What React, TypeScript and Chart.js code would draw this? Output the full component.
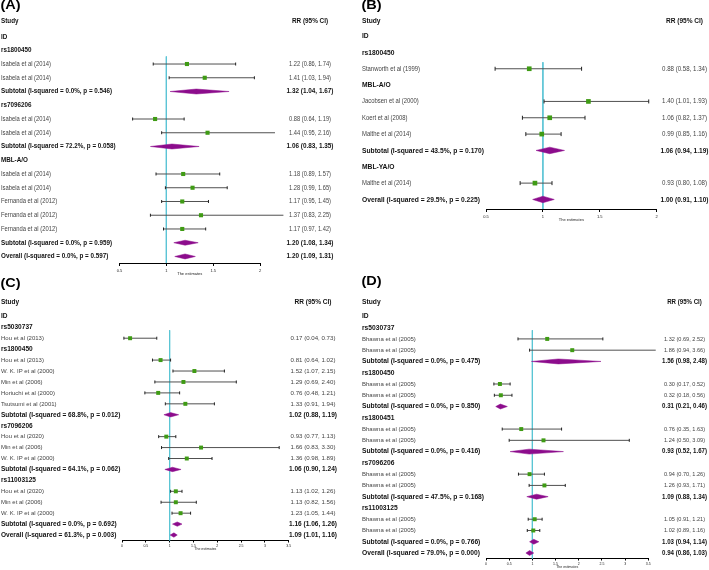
import React, { useEffect, useRef } from "react";
import { Chart, registerables } from "chart.js";

Chart.register(...registerables);
Chart.defaults.font.family = '"Liberation Sans", Arial, sans-serif';

// ---------------- Panel A ----------------
const A_LABELS = [
  "ID", "rs1800450", "Isabela et al (2014)", "Isabela et al (2014)", "Subtotal (I-squared = 0.0%, p = 0.546)",
  "rs7096206", "Isabela et al (2014)", "Isabela et al (2014)", "Subtotal (I-squared = 72.2%, p = 0.058)",
  "MBL-A/O", "Isabela et al (2014)", "Isabela et al (2014)", "Fernanda et al (2012)", "Fernanda et al (2012)",
  "Fernanda et al (2012)", "Subtotal (I-squared = 0.0%, p = 0.959)", "Overall (I-squared = 0.0%, p = 0.597)",
];
const A_KINDS = ["h", "h", "s", "s", "d", "h", "s", "s", "d", "h", "s", "s", "s", "s", "s", "d", "d"];
const A_EST = [null, null, 1.22, 1.41, 1.32, null, 0.88, 1.44, 1.06, null, 1.18, 1.28, 1.17, 1.37, 1.17, 1.2, 1.2];
const A_LOW = [null, null, 0.86, 1.03, 1.04, null, 0.64, 0.95, 0.83, null, 0.89, 0.99, 0.95, 0.83, 0.97, 1.08, 1.09];
const A_HIGH = [null, null, 1.74, 1.94, 1.67, null, 1.19, 2.16, 1.35, null, 1.57, 1.65, 1.45, 2.25, 1.42, 1.34, 1.31];
const A_TICKS = [0.5, 1, 1.5, 2];

// ---------------- Panel B ----------------
const B_LABELS = [
  "ID", "rs1800450", "Stanworth et al (1999)", "MBL-A/O", "Jacobsen et al (2000)", "Koert et al (2008)",
  "Malthe et al (2014)", "Subtotal (I-squared = 43.5%, p = 0.170)", "MBL-YA/O", "Malthe et al (2014)",
  "Overall (I-squared = 29.5%, p = 0.225)",
];
const B_KINDS = ["h", "h", "s", "h", "s", "s", "s", "d", "h", "s", "d"];
const B_EST = [null, null, 0.88, null, 1.4, 1.06, 0.99, 1.06, null, 0.93, 1.0];
const B_LOW = [null, null, 0.58, null, 1.01, 0.82, 0.85, 0.94, null, 0.8, 0.91];
const B_HIGH = [null, null, 1.34, null, 1.93, 1.37, 1.16, 1.19, null, 1.08, 1.1];
const B_TICKS = [0.5, 1, 1.5, 2];

// ---------------- Panel C ----------------
const C_LABELS = [
  "ID", "rs5030737", "Hou et al (2013)", "rs1800450", "Hou et al (2013)", "W. K. IP et al (2000)",
  "Min et al (2006)", "Horiuchi et al (2000)", "Tsutsumi et al (2001)", "Subtotal (I-squared = 68.8%, p = 0.012)",
  "rs7096206", "Hou et al (2020)", "Min et al (2006)", "W. K. IP et al (2000)", "Subtotal (I-squared = 64.1%, p = 0.062)",
  "rs11003125", "Hou et al (2020)", "Min et al (2006)", "W. K. IP et al (2000)", "Subtotal (I-squared = 0.0%, p = 0.692)",
  "Overall (I-squared = 61.3%, p = 0.003)",
];
const C_KINDS = ["h", "h", "s", "h", "s", "s", "s", "s", "s", "d", "h", "s", "s", "s", "d", "h", "s", "s", "s", "d", "d"];
const C_EST = [null, null, 0.17, null, 0.81, 1.52, 1.29, 0.76, 1.33, 1.02, null, 0.93, 1.66, 1.36, 1.06, null, 1.13, 1.13, 1.23, 1.16, 1.09];
const C_LOW = [null, null, 0.04, null, 0.64, 1.07, 0.69, 0.48, 0.91, 0.88, null, 0.77, 0.83, 0.98, 0.9, null, 1.02, 0.82, 1.05, 1.06, 1.01];
const C_HIGH = [null, null, 0.73, null, 1.02, 2.15, 2.4, 1.21, 1.94, 1.19, null, 1.13, 3.3, 1.89, 1.24, null, 1.26, 1.56, 1.44, 1.26, 1.16];
const C_TICKS = [0, 0.5, 1, 1.5, 2, 2.5, 3, 3.5];

// ---------------- Panel D ----------------
const D_LABELS = [
  "ID", "rs5030737", "Bhawna et al (2005)", "Bhawna et al (2005)", "Subtotal (I-squared = 0.0%, p = 0.475)",
  "rs1800450", "Bhawna et al (2005)", "Bhawna et al (2005)", "Subtotal (I-squared = 0.0%, p = 0.850)",
  "rs1800451", "Bhawna et al (2005)", "Bhawna et al (2005)", "Subtotal (I-squared = 0.0%, p = 0.416)",
  "rs7096206", "Bhawna et al (2005)", "Bhawna et al (2005)", "Subtotal (I-squared = 47.5%, p = 0.168)",
  "rs11003125", "Bhawna et al (2005)", "Bhawna et al (2005)", "Subtotal (I-squared = 0.0%, p = 0.766)",
  "Overall (I-squared = 79.0%, p = 0.000)",
];
const D_KINDS = ["h", "h", "s", "s", "d", "h", "s", "s", "d", "h", "s", "s", "d", "h", "s", "s", "d", "h", "s", "s", "d", "d"];
const D_EST = [null, null, 1.32, 1.86, 1.56, null, 0.3, 0.32, 0.31, null, 0.76, 1.24, 0.93, null, 0.94, 1.26, 1.09, null, 1.05, 1.02, 1.03, 0.94];
const D_LOW = [null, null, 0.69, 0.94, 0.98, null, 0.17, 0.18, 0.21, null, 0.35, 0.5, 0.52, null, 0.7, 0.93, 0.88, null, 0.91, 0.89, 0.94, 0.86];
const D_HIGH = [null, null, 2.52, 3.66, 2.48, null, 0.52, 0.56, 0.46, null, 1.63, 3.09, 1.67, null, 1.26, 1.71, 1.34, null, 1.21, 1.16, 1.14, 1.03];
const D_TICKS = [0, 0.5, 1, 1.5, 2, 2.5, 3, 3.5];

const HEADER_LEFT = "Study";
const HEADER_RIGHT = "RR (95% CI)";
const AXIS_TITLE = "The estimates";

const GREEN = "#3f9b14";
const PURPLE = "#8c0c8c";
const CYAN = "#5cc5d5";
const CI_COLOR = "#505050";

type Style = {
  panel: string;
  left: number; top: number; width: number; height: number;
  idY: number; rowH: number; axisY: number; headerY: number;
  plotL: number; plotR: number; refTop: number;
  axisH: number; tickLen: number; tickPad: number; tickFont: number; titleFont: number;
  labelX: number; valueX: number; panelLabelY: number;
  fontN: number; fontB: number; effLN: number; effLB: number; effVN: number; effVB: number;
  sq: number; cap: number; dh: number;
};

const PANELS: { labels: string[]; kinds: string[]; est: (number | null)[]; low: (number | null)[]; high: (number | null)[]; ticks: number[]; st: Style }[] = [
  {
    labels: A_LABELS, kinds: A_KINDS, est: A_EST, low: A_LOW, high: A_HIGH, ticks: A_TICKS,
    st: {
      panel: "(A)", left: 0, top: 0, width: 355, height: 285,
      idY: 34, rowH: 13.9, axisY: 263, headerY: 21, plotL: 119.5, plotR: 260, refTop: 1.45,
      axisH: 13.4, tickLen: 3, tickPad: 2, tickFont: 4, titleFont: 4,
      labelX: 1, valueX: 310, panelLabelY: 6,
      fontN: 6.6, fontB: 7.2, effLN: 5.84, effLB: 6.3, effVN: 5.72, effVB: 6.4,
      sq: 2.9, cap: 1.5, dh: 0.18,
    },
  },
  {
    labels: B_LABELS, kinds: B_KINDS, est: B_EST, low: B_LOW, high: B_HIGH, ticks: B_TICKS,
    st: {
      panel: "(B)", left: 355, top: 0, width: 354, height: 285,
      idY: 33.3, rowH: 16.6, axisY: 209, headerY: 21, plotL: 486, plotR: 656.7, refTop: 1.6,
      axisH: 13.4, tickLen: 3, tickPad: 2, tickFont: 4, titleFont: 4,
      labelX: 7, valueX: 329.5, panelLabelY: 5.5,
      fontN: 6.8, fontB: 7.6, effLN: 5.9, effLB: 6.7, effVN: 6.13, effVB: 6.54,
      sq: 3.3, cap: 2, dh: 0.2,
    },
  },
  {
    labels: C_LABELS, kinds: C_KINDS, est: C_EST, low: C_LOW, high: C_HIGH, ticks: C_TICKS,
    st: {
      panel: "(C)", left: 0, top: 270, width: 355, height: 300,
      idY: 314, rowH: 11.05, axisY: 540.5, headerY: 302, plotL: 122, plotR: 288.7, refTop: 1.27,
      axisH: 10.5, tickLen: 2, tickPad: 1, tickFont: 3.5, titleFont: 3.5,
      labelX: 1, valueX: 313, panelLabelY: 14,
      fontN: 6.2, fontB: 6.8, effLN: 6.0, effLB: 6.55, effVN: 6.13, effVB: 6.54,
      sq: 2.8, cap: 1.5, dh: 0.2,
    },
  },
  {
    labels: D_LABELS, kinds: D_KINDS, est: D_EST, low: D_LOW, high: D_HIGH, ticks: D_TICKS,
    st: {
      panel: "(D)", left: 355, top: 270, width: 354, height: 300,
      idY: 314, rowH: 11.38, axisY: 558.5, headerY: 302, plotL: 486, plotR: 648.3, refTop: 1.23,
      axisH: 10.9, tickLen: 2, tickPad: 1, tickFont: 3.5, titleFont: 3.5,
      labelX: 7, valueX: 329.5, panelLabelY: 12,
      fontN: 6.2, fontB: 6.8, effLN: 6.03, effLB: 6.7, effVN: 5.6, effVB: 6.13,
      sq: 2.8, cap: 1.5, dh: 0.22,
    },
  },
];

function drawText(ctx: CanvasRenderingContext2D, s: string, x: number, y: number, size: number, eff: number, bold: boolean, color: string, align: CanvasTextAlign) {
  ctx.save();
  ctx.font = `${bold ? "bold " : ""}${size}px "Liberation Sans", Arial, sans-serif`;
  ctx.fillStyle = color;
  ctx.textBaseline = "middle";
  ctx.textAlign = align;
  ctx.translate(x, y);
  ctx.scale(eff / size, 1);
  ctx.fillText(s, 0, 0);
  ctx.restore();
}

function fmt(v: number) {
  return v.toFixed(2);
}

function Panel({ idx }: { idx: number }) {
  const ref = useRef<HTMLCanvasElement | null>(null);
  const p = PANELS[idx];
  const st = p.st;
  useEffect(() => {
    if (!ref.current) return;
    const rows = p.labels.map((label, i) => ({
      label, kind: p.kinds[i], est: p.est[i], lo: p.low[i], hi: p.high[i], y: i,
    }));
    const studies = rows.filter((r) => r.kind === "s");
    const diamonds = rows.filter((r) => r.kind === "d");
    const yMin = -(st.idY - st.top) / st.rowH;
    const yMax = (st.axisY - st.idY) / st.rowH;
    const xMin = p.ticks[0];
    const xMax = p.ticks[p.ticks.length - 1];

    const datasets: any[] = [];
    datasets.push({
      data: studies.map((r) => ({ x: r.est, y: r.y })),
      pointStyle: "rect", pointRadius: st.sq, pointHoverRadius: st.sq,
      pointBackgroundColor: GREEN, pointBorderColor: GREEN, pointBorderWidth: 0,
      showLine: false, clip: false,
    });
    datasets.push({
      data: studies.flatMap((r) => [{ x: r.lo, y: r.y }, { x: r.hi, y: r.y }]),
      pointStyle: "line", pointRotation: 90, pointRadius: st.cap, pointHoverRadius: st.cap,
      pointBorderColor: "#222", pointBorderWidth: 1, showLine: false, clip: false,
    });
    studies.forEach((r) => {
      datasets.push({
        data: [{ x: r.lo, y: r.y }, { x: r.hi, y: r.y }],
        showLine: true, borderColor: CI_COLOR, borderWidth: 1, pointRadius: 0, pointHoverRadius: 0, clip: false,
      });
    });
    diamonds.forEach((r) => {
      datasets.push({
        data: [
          { x: r.lo, y: r.y }, { x: r.est, y: r.y - st.dh }, { x: r.hi, y: r.y },
          { x: r.est, y: r.y + st.dh }, { x: r.lo, y: r.y },
        ],
        showLine: true, fill: "shape", backgroundColor: PURPLE, borderColor: PURPLE, borderWidth: 0.5,
        pointRadius: 0, pointHoverRadius: 0, tension: 0, clip: false,
      });
    });
    datasets.push({
      data: [{ x: 1, y: st.refTop }, { x: 1, y: yMax }],
      showLine: true, borderColor: CYAN, borderWidth: 1, pointRadius: 0, pointHoverRadius: 0, clip: false,
    });

    const textPlugin = {
      id: "forestText" + idx,
      afterDraw(chart: any) {
        const ctx = chart.ctx as CanvasRenderingContext2D;
        const ys = chart.scales.y;
        const hy = st.headerY - st.top;
        drawText(ctx, st.panel, st.labelX - 0.5, st.panelLabelY, 12, 14.5, true, "#000", "left");
        drawText(ctx, HEADER_LEFT, st.labelX, hy, st.fontB, st.effLB, true, "#111", "left");
        drawText(ctx, HEADER_RIGHT, st.valueX, hy, st.fontB, st.effVB, true, "#111", "center");
        rows.forEach((r) => {
          const py = ys.getPixelForValue(r.y);
          const bold = r.kind !== "s";
          drawText(ctx, r.label, st.labelX, py, bold ? st.fontB : st.fontN, bold ? st.effLB : st.effLN, bold, bold ? "#111" : "#444", "left");
          if (r.est != null && r.lo != null && r.hi != null) {
            const s = `${fmt(r.est)} (${fmt(r.lo)}, ${fmt(r.hi)})`;
            drawText(ctx, s, st.valueX, py, bold ? st.fontB : st.fontN, bold ? st.effVB : st.effVN, bold, bold ? "#111" : "#444", "center");
          }
        });
      },
    };

    const chart = new Chart(ref.current, {
      type: "scatter",
      data: { datasets },
      options: {
        animation: false,
        responsive: false,
        events: [],
        layout: {
          padding: {
            left: st.plotL - st.left,
            right: st.left + st.width - st.plotR,
            top: 0,
            bottom: st.top + st.height - st.axisY - st.axisH,
          },
        },
        plugins: { legend: { display: false }, tooltip: { enabled: false } },
        scales: {
          x: {
            type: "linear",
            min: xMin,
            max: xMax,
            afterBuildTicks: (s: any) => {
              s.ticks = p.ticks.map((v) => ({ value: v }));
            },
            afterFit: (s: any) => {
              s.height = st.axisH;
            },
            ticks: {
              autoSkip: false, maxRotation: 0, minRotation: 0,
              font: { size: st.tickFont }, color: "#222", padding: st.tickPad,
              callback: (v: any) => String(v),
            },
            grid: { drawOnChartArea: false, drawTicks: true, tickLength: st.tickLen, color: "#000", lineWidth: 1 },
            border: { display: true, color: "#000", width: 1 },
            title: { display: true, text: AXIS_TITLE, font: { size: st.titleFont }, color: "#222", padding: 0 },
          },
          y: {
            type: "linear",
            display: false,
            reverse: true,
            min: yMin,
            max: yMax,
          },
        },
      } as any,
      plugins: [textPlugin],
    });
    return () => chart.destroy();
  }, []);
  return (
    <canvas
      ref={ref}
      width={st.width}
      height={st.height}
      style={{ position: "absolute", left: st.left, top: st.top, width: st.width, height: st.height }}
    />
  );
}

export default function App() {
  return (
    <div style={{ position: "absolute", left: 0, top: 0, width: 709, height: 570, background: "#fff", overflow: "hidden" }}>
      {PANELS.map((_, i) => (
        <Panel key={i} idx={i} />
      ))}
    </div>
  );
}
